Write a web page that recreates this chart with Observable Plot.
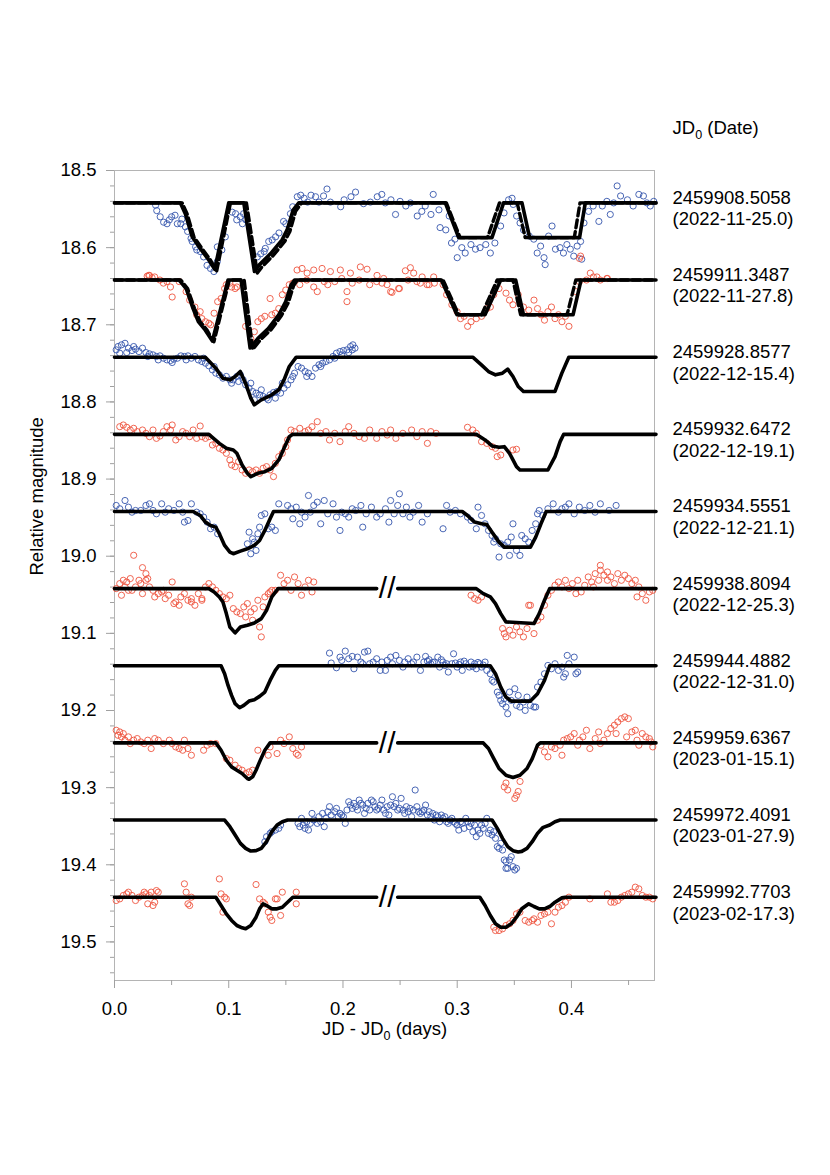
<!DOCTYPE html>
<html>
<head>
<meta charset="utf-8">
<script src="https://cdn.jsdelivr.net/npm/d3@7"></script>
<script src="https://cdn.jsdelivr.net/npm/@observablehq/plot@0.6"></script>
<style>
  html, body { margin: 0; padding: 0; background: #fff; }
  #chart { width: 830px; height: 1175px; }
</style>
</head>
<body>
<div id="chart"></div>
<script>
// ---------------- DATA ----------------
const jd0 = ["2459908.5058","2459911.3487","2459928.8577","2459932.6472","2459934.5551",
             "2459938.8094","2459944.4882","2459959.6367","2459972.4091","2459992.7703"];
const dates = ["(2022-11-25.0)","(2022-11-27.8)","(2022-12-15.4)","(2022-12-19.1)","(2022-12-21.1)",
               "(2022-12-25.3)","(2022-12-31.0)","(2023-01-15.1)","(2023-01-27.9)","(2023-02-17.3)"];
// baseline (out-of-eclipse) relative magnitude of each shifted light curve
const baseMag = [18.542,18.642,18.742,18.842,18.942,19.042,19.142,19.242,19.342,19.442];
// filter of each night: B = blue points, R = red points
const band = ["B","R","B","R","B","R","B","R","B","R"];
// curves drawn with an axis break "//" in the model line
const breakCurves = [5,7,9];
const breakX = 0.2387;
const xTicks = [0.0,0.1,0.2,0.3,0.4];
const xMinorTicks = [0.05,0.15,0.25,0.35,0.45];
const yTicks = [18.5,18.6,18.7,18.8,18.9,19.0,19.1,19.2,19.3,19.4,19.5];

// observed points: [JD-JD0, magnitude offset from the curve's baseline]
const c1Pts = [[0.036,0.003],[0.037,0.010],[0.040,0.018],[0.043,0.025],[0.046,0.027],[0.048,0.022],[0.050,0.018],[0.053,0.016],[0.055,0.027],[0.058,0.027],[0.059,0.021],[0.062,0.031],[0.064,0.037],[0.067,0.046],[0.068,0.050],[0.071,0.057],[0.072,0.061],[0.075,0.063],[0.078,0.070],[0.081,0.081],[0.084,0.085],[0.087,0.089],[0.090,0.076],[0.090,0.057],[0.094,0.061],[0.097,0.044],[0.103,0.012],[0.106,0.014],[0.107,0.022],[0.110,0.018],[0.112,0.027],[0.113,0.014],[0.115,0.022],[0.125,0.070],[0.128,0.066],[0.131,0.063],[0.132,0.059],[0.135,0.050],[0.138,0.048],[0.141,0.044],[0.144,0.039],[0.148,0.024],[0.150,0.027],[0.154,0.014],[0.156,0.005],[0.160,-0.008],[0.163,-0.010],[0.166,-0.006],[0.169,-0.001],[0.172,-0.010],[0.176,-0.008],[0.179,-0.001],[0.183,-0.009],[0.186,-0.018],[0.189,-0.001],[0.198,0.005],[0.201,-0.004],[0.207,-0.008],[0.211,-0.014],[0.218,0.001],[0.224,-0.001],[0.230,-0.008],
 [0.234,-0.011],[0.237,0.000],[0.242,-0.004],[0.246,0.015],[0.250,-0.002],[0.255,0.004],[0.259,0.000],[0.265,0.017],[0.269,0.011],[0.272,0.004],[0.277,0.015],[0.279,-0.011],[0.284,0.009],[0.285,0.032],[0.290,0.035],[0.293,0.017],[0.295,0.052],[0.298,0.047],[0.300,0.071],[0.304,0.058],[0.307,0.065],[0.312,0.054],[0.316,0.060],[0.320,0.058],[0.325,0.054],[0.329,0.065],[0.333,0.052],[0.338,0.030],[0.341,0.013],[0.345,-0.004],[0.348,-0.006],[0.349,0.002],[0.352,0.017],[0.355,0.026],[0.358,0.035],[0.363,0.043],[0.367,0.047],[0.370,0.065],[0.373,0.056],[0.376,0.071],[0.377,0.080],[0.380,0.043],[0.383,0.030],[0.386,0.060],[0.390,0.058],[0.393,0.065],[0.396,0.054],[0.399,0.060],[0.402,0.069],[0.405,0.056],[0.408,0.050],[0.409,0.073],[0.411,0.026],[0.415,0.011],[0.419,0.004],[0.424,0.024],[0.427,0.004],[0.431,-0.002],[0.434,0.015],[0.437,0.000],[0.440,-0.022],[0.443,-0.009],[0.449,-0.004],[0.454,0.004],[0.459,-0.011],[0.463,-0.009],[0.466,0.000],[0.469,0.004],[0.472,-0.002]];

const c2Pts = [[0.0286,-0.005],[0.030,-0.006],[0.0329,-0.003],[0.0306,-0.006],[0.0352,-0.004],[0.0398,0.000],[0.0428,0.004],[0.0459,0.002],[0.049,0.009],[0.0505,0.022],[0.0566,0.002],[0.0627,0.015],[0.0658,0.026],[0.0704,0.035],[0.0719,0.045],[0.075,0.041],[0.0765,0.050],[0.0796,0.054],[0.0826,0.056],[0.0842,0.058],[0.0872,0.043],[0.0903,0.028],[0.0933,0.024],[0.0964,0.011],[0.0979,0.006],[0.101,0.004],[0.1025,0.009],[0.1056,0.011],[0.1071,0.009],[0.1148,0.060],[0.1193,0.076],[0.1224,0.067],[0.1255,0.054],[0.1285,0.050],[0.1316,0.047],[0.1362,0.024],[0.1377,0.045],[0.1408,0.043],[0.1438,0.037],[0.1469,0.019],[0.1499,0.013],[0.153,0.006],[0.1561,0.004],[0.1598,-0.013],[0.1622,0.006],[0.1642,-0.015],[0.1683,0.000],[0.1686,-0.009],[0.1744,0.009],[0.1744,-0.013],[0.1775,0.015],[0.1817,-0.015],[0.1836,0.002],[0.1867,0.006],[0.189,-0.011],[0.1928,0.002],[0.1977,-0.013],[0.1989,-0.002],[0.2035,0.015],[0.2035,0.028],[0.2065,-0.009],[0.2081,0.004],[0.2142,0.000],[0.2152,-0.017],[0.2211,-0.014],[0.2234,0.006],[0.2295,0.002],[0.2298,-0.006],[0.2342,0.004],[0.2356,-0.002],[0.2386,0.006],[0.2417,0.015],[0.2429,0.016],[0.2487,0.011],[0.2494,0.011],[0.2546,-0.012],[0.257,0.000],[0.259,-0.016],[0.2619,-0.009],[0.2647,0.002],[0.2677,0.004],[0.2693,-0.004],[0.2736,0.006],[0.2754,0.006],[0.2794,-0.004],[0.28,0.004],[0.2876,0.006],[0.2907,0.019],[0.2953,0.032],[0.2999,0.041],[0.3029,0.050],[0.306,0.047],[0.3091,0.060],[0.3121,0.054],[0.3167,0.050],[0.3213,0.047],[0.3259,0.037],[0.329,0.035],[0.332,0.019],[0.3366,0.011],[0.3427,0.017],[0.3458,0.026],[0.3488,0.032],[0.3534,0.019],[0.358,0.035],[0.3626,0.039],[0.3672,0.026],[0.3703,0.037],[0.3733,0.045],[0.3764,0.052],[0.3794,0.041],[0.3825,0.035],[0.3856,0.050],[0.3886,0.045],[0.3917,0.054],[0.3947,0.047],[0.3978,0.060],[0.4039,0.015],[0.407,-0.028],[0.408,-0.031],[0.407,0.002],[0.4131,0.000],[0.4165,-0.009],[0.4192,-0.004],[0.4223,-0.004],[0.4253,0.000],[0.431,-0.002],[0.4315,-0.002]];

const c3Pts = [[0.0015,-0.0095],[0.0031,-0.0138],[0.0046,-0.0052],[0.0061,-0.016],[0.0092,-0.018],[0.0107,-0.006],[0.0122,-0.0117],[0.0153,-0.0086],[0.0168,-0.0138],[0.0184,-0.0104],[0.0214,-0.0073],[0.0245,-0.0117],[0.0275,-0.006],[0.0291,-0.0009],[0.0306,-0.0043],[0.0337,-0.003],[0.0367,-0.0009],[0.0383,0.0035],[0.0398,-0.0017],[0.0428,0.0013],[0.0459,0.0035],[0.049,0.0043],[0.0505,0.0069],[0.052,0.0026],[0.0551,0.0013],[0.0581,-0.0017],[0.0612,-0.0009],[0.0627,0.0035],[0.0643,-0.0017],[0.0673,0.0013],[0.0704,-0.0009],[0.0734,0.0035],[0.0765,0.0056],[0.078,0.0013],[0.0796,0.0078],[0.0826,0.0112],[0.0857,0.0164],[0.0872,0.0121],[0.0887,0.0207],[0.0918,0.0229],[0.0949,0.0272],[0.0979,0.025],[0.101,0.0294],[0.1025,0.0337],[0.104,0.0294],[0.1071,0.025],[0.1086,0.0315],[0.1102,0.0229],[0.1126,0.0294],[0.1148,0.0358],[0.1178,0.0402],[0.1193,0.0337],[0.1209,0.0445],[0.1224,0.0553],[0.1239,0.0466],[0.127,0.0488],[0.1285,0.0423],[0.1301,0.0509],[0.1331,0.0531],[0.1346,0.0553],[0.1362,0.0488],[0.1392,0.0458],[0.1408,0.0531],[0.1423,0.0445],[0.1454,0.0466],[0.1469,0.0337],[0.1484,0.0402],[0.1515,0.0358],[0.1545,0.0294],[0.1561,0.025],[0.1576,0.0207],[0.1607,0.0121],[0.1637,0.0142],[0.1668,0.0186],[0.1683,0.025],[0.1698,0.0207],[0.1729,0.025],[0.176,0.0142],[0.179,0.0099],[0.1805,0.0121],[0.1821,0.0078],[0.1851,0.0056],[0.1882,0.0035],[0.1913,-0.0009],[0.1928,0.0013],[0.1943,-0.0052],[0.1974,-0.0073],[0.1989,-0.003],[0.2004,-0.0086],[0.2035,-0.0095],[0.205,-0.006],[0.2066,-0.0138],[0.2081,-0.0095],[0.2087,-0.016],[0.2105,-0.0117]];

const c4Pts = [[0.0046,-0.0099],[0.0077,-0.0121],[0.0107,-0.0091],[0.0138,-0.0056],[0.0168,-0.0078],[0.0199,-0.0035],[0.0245,-0.0056],[0.0275,-0.0013],[0.0306,0.003],[0.0337,-0.0056],[0.0367,0.0052],[0.0398,0.0022],[0.0428,-0.0035],[0.0459,-0.0099],[0.049,-0.0056],[0.0505,-0.0121],[0.0536,0.0073],[0.0566,0.003],[0.0597,-0.0035],[0.0627,-0.0013],[0.0658,0.003],[0.0688,-0.0056],[0.0719,0.0052],[0.075,-0.0108],[0.0765,0.003],[0.0796,0.0052],[0.0826,0.003],[0.0857,0.0138],[0.0887,0.0117],[0.0918,0.0181],[0.0949,0.0203],[0.0979,0.0246],[0.101,0.0332],[0.1025,0.0397],[0.1056,0.0419],[0.1086,0.0354],[0.1117,0.0462],[0.1148,0.0505],[0.1178,0.0462],[0.1209,0.0484],[0.1239,0.0462],[0.127,0.0505],[0.1301,0.044],[0.1331,0.0419],[0.1362,0.0462],[0.1392,0.0548],[0.1408,0.0376],[0.1438,0.029],[0.1469,0.0246],[0.1499,0.016],[0.1515,0.0073],[0.1545,-0.0056],[0.1576,-0.0035],[0.1622,-0.0078],[0.1668,-0.0035],[0.1698,-0.0056],[0.1729,-0.0099],[0.1775,-0.0164],[0.1805,-0.0013],[0.1851,-0.0035],[0.1882,0.0073],[0.1928,-0.0013],[0.1974,0.0095],[0.202,-0.0035],[0.205,-0.0099],[0.2096,-0.0013],[0.2142,0.003],[0.2188,0.0052],[0.2234,-0.0056],[0.2295,0.0052],[0.2341,-0.0035],[0.2387,0.0009],[0.2417,-0.0056],[0.2463,0.0052],[0.2524,-0.0013],[0.2601,-0.0056],[0.2647,0.003],[0.2693,-0.0035],[0.2739,0.0117],[0.2769,-0.0035],[0.2815,-0.0013],[0.309,-0.0091],[0.3136,-0.0056],[0.3167,-0.0013],[0.3213,0.0095],[0.3259,0.0117],[0.3305,0.016],[0.3335,0.0181],[0.335,0.0289],[0.3381,0.0268],[0.3488,0.0203],[0.3519,0.0194]];

const c5Pts = [[0.0015,-0.0078],[0.0046,-0.0035],[0.0092,-0.0142],[0.0122,-0.0056],[0.0153,0.0009],[0.0184,-0.0013],[0.023,-0.0013],[0.0275,-0.0078],[0.0306,-0.0099],[0.0337,-0.0013],[0.0367,0.003],[0.0413,-0.0099],[0.0444,0.0009],[0.0474,-0.0035],[0.052,-0.0013],[0.0566,-0.0099],[0.0597,0.0009],[0.0612,0.0138],[0.0643,0.0117],[0.0673,-0.0099],[0.0719,0.0009],[0.075,0.003],[0.078,0.0073],[0.0811,0.0138],[0.0841,0.0224],[0.0872,0.0203],[0.0903,0.0289],[0.1163,0.0419],[0.1178,0.0268],[0.1193,0.0548],[0.1209,0.0354],[0.1224,0.0397],[0.1239,0.0505],[0.1255,0.0289],[0.127,0.0203],[0.1285,0.0052],[0.1316,0.003],[0.1346,0.0224],[0.1377,0.0203],[0.1408,0.0246],[0.1438,-0.0099],[0.1515,-0.0078],[0.1545,-0.0035],[0.1561,0.0095],[0.1591,-0.0056],[0.1622,0.016],[0.1637,0.0009],[0.1668,0.0073],[0.1698,-0.0207],[0.1714,0.0009],[0.1744,-0.0078],[0.1775,-0.0121],[0.1805,0.016],[0.1836,-0.0142],[0.1867,0.003],[0.1913,-0.0099],[0.1943,0.0073],[0.1974,0.0246],[0.1989,0.0009],[0.202,0.003],[0.205,0.0073],[0.2081,-0.0035],[0.2111,-0.0013],[0.2157,-0.0078],[0.2173,0.0203],[0.2203,0.003],[0.2249,-0.0056],[0.2295,0.0073],[0.2326,0.003],[0.2372,-0.0035],[0.2402,0.0138],[0.2417,-0.0142],[0.2448,0.003],[0.2479,-0.0078],[0.2494,-0.0229],[0.2525,0.003],[0.2555,-0.0056],[0.2586,0.0073],[0.2616,0.0009],[0.2662,-0.0078],[0.2693,0.0138],[0.2739,0.003],[0.2876,0.0224],[0.2907,-0.0078],[0.2938,0.0009],[0.2984,-0.0013],[0.3029,0.003],[0.309,0.0073],[0.3121,0.0117],[0.3167,0.0224],[0.3182,-0.0056],[0.3213,0.0052],[0.3244,0.016],[0.3274,0.0246],[0.3305,0.0311],[0.332,0.0397],[0.3335,0.0354],[0.3366,0.0591],[0.3381,0.0419],[0.3412,0.044],[0.3442,0.0397],[0.3458,0.057],[0.3473,0.0332],[0.3488,0.016],[0.3519,0.0505],[0.3549,0.057],[0.3565,0.0311],[0.3595,0.0354],[0.3626,0.0397],[0.3656,0.0246],[0.3687,0.016],[0.3703,0.003],[0.3718,-0.0013],[0.3748,0.0052],[0.3794,-0.0035],[0.384,-0.0099],[0.3886,0.0009],[0.3917,-0.0035],[0.3947,-0.0056],[0.3978,-0.0099],[0.4024,0.003],[0.4069,-0.0056],[0.4116,-0.0013],[0.4161,-0.0078],[0.4207,0.0009],[0.4253,-0.0099],[0.433,-0.0013],[0.4391,-0.0078]];

const c6Pts = [[0.0015,0.000],[0.0046,-0.0065],[0.0061,0.0086],[0.0077,-0.0108],[0.0092,-0.0022],[0.0107,-0.0086],[0.0122,0.0022],[0.0138,-0.013],[0.0153,0.0022],[0.0168,-0.0432],[0.0184,-0.0022],[0.0214,-0.0108],[0.023,-0.0065],[0.0245,0.0065],[0.0245,-0.0272],[0.0275,-0.0108],[0.0275,-0.0194],[0.0291,-0.013],[0.0306,-0.0022],[0.0337,0.0022],[0.0352,0.0108],[0.0383,0.0065],[0.0413,0.0043],[0.0428,0.0022],[0.0444,0.013],[0.0474,0.0086],[0.0505,-0.0086],[0.052,0.0194],[0.0536,0.0173],[0.0566,0.0216],[0.0581,0.0108],[0.0612,0.0065],[0.0643,0.0151],[0.0673,0.013],[0.0673,0.0173],[0.0704,0.0216],[0.0734,0.0065],[0.0765,0.0151],[0.0765,0.013],[0.0796,-0.0022],[0.0826,-0.0065],[0.0857,-0.0022],[0.0887,0.0022],[0.0918,0.0065],[0.0949,0.0108],[0.0979,0.013],[0.101,0.0086],[0.104,0.0259],[0.1071,0.0302],[0.1102,0.0324],[0.1132,0.0237],[0.1148,0.0367],[0.1163,0.0194],[0.1193,0.0302],[0.1209,0.041],[0.1224,0.0259],[0.1255,0.0151],[0.127,0.0497],[0.1285,0.0626],[0.1301,0.0237],[0.1316,0.0108],[0.1346,0.0065],[0.1362,0.0043],[0.1377,0.0022],[0.1408,0.0022],[0.1454,-0.0173],[0.1484,-0.0065],[0.1515,-0.0108],[0.1545,0.0022],[0.1576,-0.0151],[0.1607,-0.0065],[0.1637,0.0086],[0.1668,-0.0022],[0.1698,-0.0108],[0.1729,0.0043],[0.1744,-0.0086],
 [0.3121,0.0086],[0.3152,0.013],[0.3182,0.0151],[0.3213,0.0108],[0.3397,0.0518],[0.3412,0.0583],[0.3427,0.0626],[0.3458,0.054],[0.3488,0.0604],[0.3519,0.0497],[0.3549,0.0561],[0.358,0.0626],[0.3611,0.0518],[0.3626,0.0216],[0.3641,0.0216],[0.3672,0.0583],[0.3703,0.041],[0.3733,0.0367],[0.3764,0.0216],[0.3794,0.0086],[0.3825,0.0022],[0.3856,-0.0043],[0.3886,-0.0086],[0.3917,-0.0022],[0.3947,-0.0108],[0.3978,0.000],[0.4008,-0.0065],[0.4039,0.0065],[0.4055,-0.0108],[0.4085,0.0043],[0.4116,-0.0043],[0.4147,-0.0151],[0.4177,-0.0086],[0.4192,-0.0022],[0.4208,-0.0194],[0.4238,-0.0108],[0.4253,-0.0238],[0.4253,-0.0302],[0.4284,-0.0173],[0.4315,-0.0108],[0.4315,-0.0216],[0.4345,-0.0151],[0.4376,-0.0065],[0.4406,-0.0194],[0.4437,-0.0108],[0.4467,-0.0173],[0.4498,-0.013],[0.4529,-0.0065],[0.4559,-0.0108],[0.4574,0.0108],[0.459,-0.0022],[0.462,0.0065],[0.4651,0.0151],[0.4682,0.0043],[0.4712,0.0022]];

const c7Pts = [[0.1882,-0.0164],[0.1897,-0.0035],[0.1943,0.0026],[0.1974,-0.0112],[0.1989,-0.0069],[0.202,-0.019],[0.205,-0.0091],[0.2081,-0.0121],[0.2096,0.0039],[0.2127,-0.0112],[0.2157,-0.0048],[0.2173,-0.0026],[0.2188,-0.0177],[0.2218,-0.019],[0.2234,-0.0026],[0.2264,-0.0048],[0.2295,-0.0091],[0.2326,0.006],[0.2341,-0.0048],[0.2372,0.006],[0.2387,-0.0069],[0.2417,-0.0112],[0.2433,-0.0026],[0.2463,-0.0134],[0.2494,-0.0069],[0.2525,0.0017],[0.254,-0.0048],[0.257,-0.0091],[0.2601,-0.0026],[0.2616,-0.0048],[0.2647,-0.0112],[0.2678,0.006],[0.2708,-0.0048],[0.2723,-0.0121],[0.2739,-0.006],[0.2754,-0.0078],[0.2769,-0.0026],[0.2785,-0.0043],[0.28,-0.0048],[0.283,-0.0112],[0.2846,0.0017],[0.2861,-0.0078],[0.2876,-0.0048],[0.2892,-0.0004],[0.2907,-0.0026],[0.2922,0.0082],[0.2953,-0.0026],[0.2968,-0.0155],[0.2984,-0.0035],[0.2999,0.0017],[0.3014,-0.0017],[0.3029,-0.0048],[0.3044,0.006],[0.306,-0.006],[0.3075,-0.0026],[0.3106,0.0017],[0.3121,-0.0048],[0.3136,0.0009],[0.3152,-0.0026],[0.3167,0.0039],[0.3182,-0.0043],[0.3198,-0.0026],[0.3213,0.0017],[0.3228,-0.0009],[0.3244,-0.0048],[0.3259,0.006],[0.3289,0.0104],[0.3305,0.019],[0.332,0.0211],[0.3351,0.0341],[0.3366,0.0384],[0.3381,0.0449],[0.3397,0.0492],[0.3412,0.0427],[0.3427,0.0535],[0.3442,0.0622],[0.3458,0.0341],[0.3473,0.0449],[0.3504,0.0298],[0.3519,0.0514],[0.3534,0.0384],[0.3549,0.0535],[0.358,0.047],[0.3595,0.0579],[0.3611,0.0406],[0.3641,0.0514],[0.3672,0.0535],[0.3687,0.0535],[0.3703,0.0276],[0.3733,0.0211],[0.3764,0.0104],[0.3794,-0.0004],[0.3825,0.0039],[0.3856,-0.0026],[0.3886,0.006],[0.3917,0.0017],[0.3932,0.0147],[0.3947,0.0104],[0.3963,-0.0134],[0.3978,-0.0026],[0.4024,-0.0112],[0.4039,0.0104],[0.4055,0.0082]];

const c8Pts = [[0.0015,-0.0164],[0.0031,-0.0099],[0.0046,-0.0142],[0.0061,-0.0078],[0.0077,-0.0121],[0.0092,-0.0035],[0.0122,-0.0078],[0.0138,0.0009],[0.0168,-0.0035],[0.0199,-0.0056],[0.023,-0.0013],[0.026,0.0009],[0.0291,-0.0035],[0.0321,0.0073],[0.0352,-0.0056],[0.0383,-0.0035],[0.0428,0.0009],[0.048,-0.0035],[0.0505,0.0009],[0.0536,0.0052],[0.0566,0.0073],[0.0597,0.0095],[0.0612,-0.0035],[0.0643,0.0073],[0.0673,0.016],[0.078,0.0095],[0.0811,0.003],[0.0841,0.0009],[0.0887,0.0009],[0.0979,0.0203],[0.101,0.0225],[0.1056,0.0289],[0.1086,0.0332],[0.1117,0.0354],[0.1148,0.0397],[0.1178,0.0376],[0.1209,0.0354],[0.1255,0.0095],[0.1346,0.016],[0.1362,0.0052],[0.1423,0.0138],[0.1454,-0.0035],[0.1484,0.0009],[0.153,-0.0078],[0.1561,0.0073],[0.1591,0.0138],[0.1607,0.016],[0.1637,0.0052],
 [0.3412,0.057],[0.3427,0.052],[0.3442,0.061],[0.3504,0.072],[0.3519,0.068],[0.3534,0.063],[0.355,0.050],[0.3733,0.003],[0.3764,0.0117],[0.3794,0.0181],[0.3825,0.0052],[0.3856,0.0073],[0.3901,0.003],[0.3917,0.016],[0.3932,-0.0035],[0.3963,-0.0056],[0.3993,-0.0078],[0.4024,-0.0121],[0.4055,0.003],[0.407,-0.0035],[0.41,-0.0078],[0.4131,-0.0164],[0.4161,0.0073],[0.4208,-0.0056],[0.4238,-0.0142],[0.4253,0.0009],[0.4284,-0.0035],[0.4315,-0.0121],[0.4345,-0.0186],[0.4376,-0.0229],[0.4391,-0.0121],[0.4406,-0.0272],[0.4437,-0.0315],[0.4467,-0.0337],[0.4483,-0.0078],[0.4498,-0.0315],[0.4529,-0.0142],[0.4559,-0.0164],[0.4574,-0.0035],[0.459,0.003],[0.462,-0.0121],[0.4651,-0.0078],[0.4682,-0.0056],[0.4697,-0.0013],[0.4712,0.0052]];

const c9Pts = [[0.1316,0.0281],[0.1331,0.0216],[0.1362,0.0173],[0.1377,0.0151],[0.1408,0.013],[0.1438,0.0108],[0.1454,0.0065],[0.1607,0.0043],[0.1622,0.0086],[0.1637,-0.0022],[0.1652,0.0065],[0.1668,0.0108],[0.1683,0.0022],[0.1698,0.013],[0.1714,0.0043],[0.1729,-0.0086],[0.1744,0.000],[0.1775,0.0043],[0.179,-0.0043],[0.1805,0.0022],[0.1821,-0.0086],[0.1836,0.0086],[0.1851,-0.0022],[0.1867,-0.0108],[0.1882,-0.0173],[0.1897,-0.0065],[0.1928,-0.0108],[0.1943,-0.0151],[0.1958,-0.0043],[0.1974,-0.0086],[0.1989,-0.0065],[0.2004,-0.0043],[0.202,0.0043],[0.2035,-0.013],[0.205,-0.0237],[0.2066,-0.0194],[0.2081,-0.0151],[0.2096,-0.0216],[0.2111,-0.0173],[0.2127,-0.013],[0.2142,-0.0259],[0.2157,-0.0216],[0.2173,-0.0194],[0.2188,-0.0086],[0.2203,-0.0151],[0.2218,-0.0216],[0.2234,-0.013],[0.2249,-0.0259],[0.2264,-0.0237],[0.228,-0.0173],[0.2295,-0.013],[0.231,-0.0151],[0.2326,-0.0194],[0.2341,-0.0259],[0.2356,-0.013],[0.2372,-0.0086],[0.2387,-0.0173],[0.2402,-0.0065],[0.2417,-0.0194],[0.2433,-0.0302],[0.2448,-0.0173],[0.2463,-0.0216],[0.2479,-0.013],[0.2494,-0.0151],[0.2509,-0.0281],[0.2525,-0.013],[0.254,-0.0086],[0.2555,-0.0173],[0.257,-0.0108],[0.2586,-0.0151],[0.2601,-0.0043],[0.2616,-0.013],[0.2632,-0.0389],[0.2647,-0.0173],[0.2662,-0.0108],[0.2678,-0.0086],[0.2693,-0.0108],[0.2708,-0.013],[0.2723,-0.0194],[0.2739,-0.0065],[0.2754,-0.0108],[0.2769,-0.0043],[0.2785,-0.0086],[0.28,0.000],[0.2815,-0.0065],[0.2831,-0.0043],[0.2846,0.0022],[0.2861,-0.0065],[0.2876,-0.0022],[0.2892,-0.0043],[0.2907,0.0022],[0.2922,0.0043],[0.2938,0.000],[0.2953,-0.0022],[0.2968,0.0022],[0.2984,0.0043],[0.2999,0.0065],[0.3014,0.013],[0.3029,0.0022],[0.3045,0.0043],[0.306,0.0108],[0.3075,-0.0022],[0.3091,0.0022],[0.3106,0.0086],[0.3121,0.0043],[0.3137,0.0151],[0.3152,0.0065],[0.3167,0.0216],[0.3182,0.013],[0.3198,0.0173],[0.3213,0.0065],[0.3228,0.0108],[0.3244,0.0043],[0.3259,-0.0022],[0.3274,0.0173],[0.329,0.013],[0.3305,0.0194],[0.332,0.0151],[0.3335,0.0237],[0.3351,0.0345],[0.3366,0.0367],[0.3381,0.0302],[0.3397,0.0389],[0.3412,0.0518],[0.3427,0.054],[0.3427,0.0626],[0.3442,0.0626],[0.3458,0.0518],[0.3473,0.0475],[0.3488,0.0604],[0.3504,0.0648],[0.3519,0.0626]];

const c10Pts = [[0.0015,0.0043],[0.0046,0.0022],[0.0077,-0.0022],[0.0107,-0.0043],[0.0122,-0.0065],[0.0153,-0.0022],[0.0184,0.0043],[0.0214,0.000],[0.0245,-0.0022],[0.026,-0.0065],[0.0275,-0.0043],[0.0291,0.0086],[0.0306,-0.0022],[0.0321,-0.0065],[0.0337,0.0108],[0.0352,0.0065],[0.0367,-0.0086],[0.0383,-0.0065],[0.0612,-0.0173],[0.0627,-0.0065],[0.0643,0.0086],[0.0658,0.0108],[0.0673,0.000],[0.0918,-0.0237],[0.0933,-0.0043],[0.0949,0.0194],[0.0964,0.000],[0.0979,0.0022],[0.1239,-0.0164],[0.127,0.0022],[0.1301,0.0065],[0.1316,0.0086],[0.1346,0.0194],[0.1362,0.0259],[0.1377,0.0302],[0.1408,0.0022],[0.1423,0.0022],[0.1454,0.0237],[0.1469,-0.0065],[0.1591,-0.0065],[0.1591,0.0086],
 [0.332,0.0389],[0.3335,0.0432],[0.3366,0.0432],[0.3397,0.041],[0.3427,0.0367],[0.3458,0.0345],[0.3488,0.0302],[0.3519,0.0216],[0.3549,0.0194],[0.3595,0.0302],[0.3626,0.0324],[0.3657,0.0302],[0.3672,0.0281],[0.3703,0.0324],[0.3733,0.0237],[0.3764,0.0216],[0.3794,0.0194],[0.3825,0.0345],[0.3856,0.0194],[0.3886,0.013],[0.3917,0.0108],[0.3947,0.0065],[0.3978,0.000],[0.4161,0.0022],[0.4315,-0.0043],[0.4345,0.0065],[0.4376,0.0065],[0.4406,0.0043],[0.4437,0.000],[0.4467,-0.0022],[0.4498,-0.0043],[0.4529,-0.0065],[0.4559,-0.013],[0.459,-0.0108],[0.462,-0.0022],[0.4651,0.000],[0.4682,0.000],[0.4712,0.0022]];

// model light curves (solid): [JD-JD0, magnitude offset]; null = break in the line
const c1Model = [[0,0],[0.0577,0],[0.062,0.014],[0.068,0.044],[0.075,0.059],[0.0825,0.074],[0.0878,0.086],[0.100,0],[0.1132,0],[0.1225,0.089],[0.1263,0.081],[0.1365,0.066],[0.1467,0.048],[0.1511,0.035],[0.1563,0.0095],[0.1613,0],[0.2896,0],[0.3013,0.045],[0.3304,0.045],[0.3406,0],[0.3567,0],[0.3634,0.045],[0.4071,0.045],[0.4121,0],[0.474,0]];
const c2Model = [[0,0],[0.0566,0],[0.0627,0.011],[0.0688,0.037],[0.0734,0.054],[0.0795,0.065],[0.0857,0.079],[0.0994,0],[0.1108,0],[0.1187,0.088],[0.1254,0.076],[0.1346,0.063],[0.1438,0.045],[0.1499,0.028],[0.1545,0.0065],[0.1576,0],[0.2861,0],[0.2998,0.045],[0.3243,0.045],[0.3381,0],[0.3512,0],[0.358,0.045],[0.4014,0.045],[0.4084,0],[0.474,0]];
const c3Model = [[0,0],[0.0795,0],[0.0887,0.0142],[0.0948,0.0272],[0.101,0.0294],[0.1056,0.025],[0.1101,0.0186],[0.1147,0.0337],[0.1193,0.0531],[0.1224,0.0617],[0.1285,0.0553],[0.1377,0.0488],[0.1438,0.0423],[0.1484,0.0294],[0.153,0.0121],[0.1591,0],[0.3136,0],[0.3212,0.0099],[0.3274,0.0186],[0.3335,0.0229],[0.3396,0.0207],[0.3442,0.0155],[0.3488,0.025],[0.3534,0.038],[0.358,0.0445],[0.3855,0.0445],[0.3916,0.0207],[0.3977,0],[0.474,0]];
const c4Model = [[0,0],[0.0826,0],[0.0918,0.0117],[0.0979,0.0181],[0.104,0.0203],[0.1071,0.0246],[0.1117,0.0397],[0.1163,0.0505],[0.1193,0.0548],[0.1255,0.0505],[0.1316,0.0484],[0.1377,0.044],[0.1438,0.0332],[0.1484,0.0181],[0.153,0.003],[0.156,0],[0.3167,0],[0.3244,0.0073],[0.3305,0.0151],[0.3366,0.0168],[0.3412,0.016],[0.3458,0.0246],[0.3519,0.0419],[0.3549,0.0462],[0.3794,0.0462],[0.3856,0.0289],[0.3901,0.0095],[0.3932,0],[0.474,0]];
const c5Model = [[0,0],[0.0688,0],[0.075,0.0052],[0.0796,0.0138],[0.0841,0.0181],[0.0887,0.0203],[0.0918,0.0289],[0.0964,0.044],[0.101,0.0527],[0.104,0.0548],[0.1102,0.0514],[0.1163,0.0484],[0.1224,0.044],[0.127,0.0376],[0.1316,0.0246],[0.1362,0.0095],[0.1392,0],[0.3044,0],[0.309,0.0052],[0.3152,0.0138],[0.3213,0.016],[0.3259,0.0168],[0.3305,0.0268],[0.3366,0.0397],[0.3412,0.0462],[0.3641,0.0462],[0.3687,0.0332],[0.3733,0.016],[0.3779,0],[0.474,0]];
const c6Model = [[0,0],[0.0826,0],[0.0872,0.0043],[0.0918,0.0108],[0.0949,0.0173],[0.0979,0.0324],[0.101,0.0497],[0.1056,0.0574],[0.1102,0.0497],[0.1163,0.0475],[0.1224,0.0445],[0.1285,0.0389],[0.1331,0.0281],[0.1377,0.0108],[0.1432,0],[0.2295,0],[0.2387,null],[0.2479,0],[0.3167,0],[0.3228,0.0065],[0.329,0.0108],[0.3335,0.0194],[0.3381,0.0324],[0.3427,0.0432],[0.3672,0.0453],[0.3718,0.0324],[0.3764,0.0151],[0.381,0],[0.474,0]];
const c7Model = [[0,0],[0.0933,0],[0.0964,0.0104],[0.0994,0.0255],[0.1025,0.0384],[0.1056,0.0492],[0.1095,0.0544],[0.1132,0.0514],[0.1178,0.0458],[0.1224,0.044],[0.127,0.0397],[0.1316,0.0341],[0.1362,0.019],[0.1408,0.006],[0.1438,0],[0.3289,0],[0.3335,0.0104],[0.3381,0.0276],[0.3427,0.0406],[0.3473,0.0458],[0.3641,0.0458],[0.3703,0.0363],[0.3764,0.019],[0.381,0],[0.474,0]];
const c8Model = [[0,0],[0.0887,0],[0.0933,0.0095],[0.0979,0.0225],[0.1025,0.0311],[0.1071,0.0354],[0.1117,0.0397],[0.1163,0.0462],[0.1178,0.0471],[0.1209,0.044],[0.1239,0.0354],[0.127,0.0246],[0.1316,0.0095],[0.1362,0],[0.2295,0],[0.2387,null],[0.2479,0],[0.3228,0],[0.3274,0.0073],[0.332,0.0203],[0.3366,0.0332],[0.3427,0.0419],[0.3488,0.0449],[0.3549,0.0419],[0.3611,0.0332],[0.3657,0.0203],[0.3703,0.003],[0.3727,0],[0.474,0]];
const c9Model = [[0,0],[0.0964,0],[0.101,0.0086],[0.1056,0.0194],[0.1102,0.0302],[0.1148,0.0367],[0.1193,0.0402],[0.1239,0.0397],[0.1285,0.0367],[0.1331,0.0281],[0.1377,0.0151],[0.1423,0.0065],[0.1469,0.0022],[0.1515,0],[0.3305,0],[0.3351,0.0108],[0.3397,0.0237],[0.3442,0.0345],[0.3488,0.0397],[0.3534,0.0415],[0.3565,0.0406],[0.3611,0.0367],[0.3657,0.0281],[0.3703,0.0173],[0.3748,0.0099],[0.381,0.0065],[0.3856,0.0022],[0.3901,0],[0.474,0]];
const c10Model = [[0,0],[0.0887,0],[0.0933,0.0108],[0.0979,0.0216],[0.1025,0.0302],[0.1071,0.0367],[0.1117,0.0397],[0.1148,0.041],[0.1193,0.0367],[0.1239,0.0259],[0.127,0.0151],[0.1301,0.0086],[0.1331,0.0108],[0.1377,0.0151],[0.1423,0.0151],[0.1469,0.013],[0.1515,0.0065],[0.1561,0],[0.2295,0],[0.2387,null],[0.2479,0],[0.3198,0],[0.3244,0.0108],[0.329,0.0237],[0.3335,0.0345],[0.3381,0.0389],[0.3427,0.0389],[0.3473,0.0345],[0.3519,0.0259],[0.3565,0.0151],[0.3626,0.0086],[0.3672,0.0121],[0.3718,0.0151],[0.3764,0.0151],[0.381,0.0121],[0.3856,0.0065],[0.3917,0.0009],[0.3947,0],[0.474,0]];
// alternative model (dashed) for the first two nights
const c1Dash = [[0,0],[0.0592,0],[0.0635,0.014],[0.0695,0.044],[0.0765,0.059],[0.084,0.074],[0.0895,0.088],[0.1015,0],[0.1155,0],[0.125,0.091],[0.129,0.083],[0.139,0.068],[0.149,0.05],[0.1535,0.037],[0.1585,0.011],[0.1638,0],[0.2905,0],[0.3025,0.045],[0.3265,0.045],[0.337,0],[0.3525,0],[0.3595,0.045],[0.4025,0.045],[0.4075,0],[0.474,0]];
const c2Dash = [[0,0],[0.058,0],[0.064,0.011],[0.070,0.037],[0.075,0.054],[0.081,0.065],[0.087,0.080],[0.1005,0],[0.1135,0],[0.121,0.090],[0.128,0.077],[0.1372,0.064],[0.1462,0.046],[0.1522,0.029],[0.1568,0.007],[0.16,0],[0.2876,0],[0.3013,0.045],[0.3213,0.045],[0.335,0],[0.3488,0],[0.3555,0.045],[0.3962,0.045],[0.4038,0],[0.474,0]];

const allPts = [c1Pts,c2Pts,c3Pts,c4Pts,c5Pts,c6Pts,c7Pts,c8Pts,c9Pts,c10Pts];
const allModels = [c1Model,c2Model,c3Model,c4Model,c5Model,c6Model,c7Model,c8Model,c9Model,c10Model];
const dashModels = [c1Dash, c2Dash];

// ---------------- BUILD ----------------
const blue = "#3556ad", red = "#ee5540";
const ptRows = allPts.flatMap((pts, i) => pts.map(([x, d]) => ({x, y: baseMag[i] + d, band: band[i]})));
const modelRows = allModels.flatMap((m, i) => m.map(([x, d]) => ({x, y: d == null ? null : baseMag[i] + d, k: i})));
const dashRows = dashModels.flatMap((m, i) => m.map(([x, d]) => ({x, y: baseMag[i] + d, k: i})));
const labelRows = jd0.map((j, i) => ({jd: j, date: dates[i], y: baseMag[i]}));
const breakRows = breakCurves.map(i => ({x: breakX, y: baseMag[i]}));
const yMinor = d3.range(0, 53).map(i => +(18.5 + i * 0.02).toFixed(2));

const FS = 18.5;
const chart = Plot.plot({
  width: 830, height: 1175,
  marginLeft: 114, marginRight: 176, marginTop: 170, marginBottom: 195,
  style: {fontFamily: "'Liberation Sans', Arial, Helvetica, sans-serif", fontSize: FS + "px", background: "white", color: "black"},
  x: {domain: [0, 0.4727]},
  y: {domain: [18.5, 19.55], reverse: true},
  marks: [
    Plot.frame({stroke: "#b4b4b4"}),
    Plot.axisY(yMinor, {tickSize: 4, tickFormat: () => "", stroke: "#a0a0a0", label: null}),
    Plot.axisY(yTicks, {tickSize: 8, tickPadding: 10, tickFormat: d => d.toFixed(1), stroke: "#a0a0a0", label: null, fontSize: FS}),
    Plot.axisX(xMinorTicks, {tickSize: 5, tickFormat: () => "", stroke: "#a0a0a0", label: null}),
    Plot.axisX(xTicks, {tickSize: 8, tickPadding: 13, tickFormat: d => d.toFixed(1), stroke: "#a0a0a0", label: null, fontSize: FS}),
    Plot.dot(ptRows.filter(d => d.band === "B"), {x: "x", y: "y", r: 3.1, stroke: blue, strokeWidth: 0.9, fill: "none"}),
    Plot.dot(ptRows.filter(d => d.band === "R"), {x: "x", y: "y", r: 3.1, stroke: red, strokeWidth: 0.9, fill: "none"}),
    Plot.line(modelRows, {x: "x", y: "y", z: "k", stroke: "black", strokeWidth: 3.6, strokeLinejoin: "round"}),
    Plot.line(dashRows, {x: "x", y: "y", z: "k", stroke: "black", strokeWidth: 3.4, strokeDasharray: "8,4"}),
    Plot.text(breakRows, {x: "x", y: "y", text: () => "//", fontSize: 30, fill: "black"}),
    Plot.text(labelRows, {y: "y", text: "jd", frameAnchor: "right", dx: 18, dy: -5, textAnchor: "start", fontSize: FS}),
    Plot.text(labelRows, {y: "y", text: "date", frameAnchor: "right", dx: 18, dy: 16.5, textAnchor: "start", fontSize: FS}),
    Plot.text(["JD0 (Date)"], {text: d => d, frameAnchor: "top-right", dx: 18, dy: -50, textAnchor: "start", fontSize: FS}),
    Plot.text(["JD - JD0 (days)"], {text: d => d, frameAnchor: "bottom", dy: 54, fontSize: FS}),
    Plot.text(["Relative magnitude"], {text: d => d, frameAnchor: "left", dx: -77, rotate: -90, fontSize: FS})
  ]
});

// subscript "0" in JD0
d3.select(chart).selectAll("text").each(function() {
  const t = this.textContent;
  if (t.includes("JD0")) {
    const parts = t.split("JD0");
    const sel = d3.select(this);
    sel.text(null);
    sel.append("tspan").text(parts[0] + "JD");
    sel.append("tspan").attr("font-size", "0.68em").attr("dy", 5).text("0");
    sel.append("tspan").attr("dy", -5).text(parts[1]);
  }
});
document.getElementById("chart").appendChild(chart);
</script>
</body>
</html>
